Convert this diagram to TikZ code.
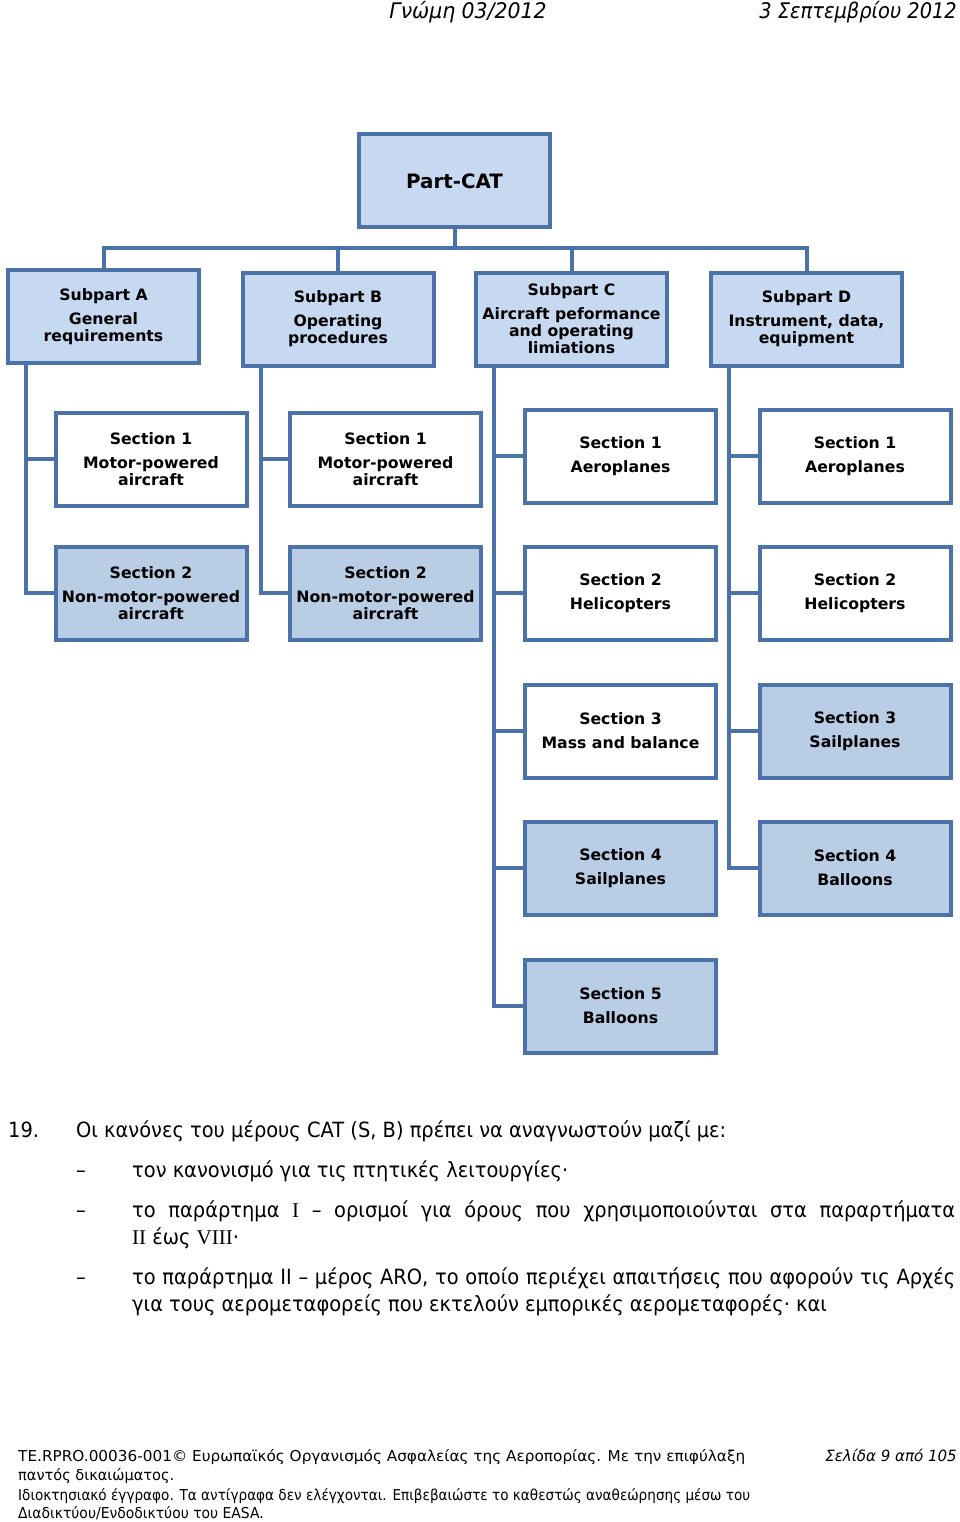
\documentclass[tikz,border=0pt]{standalone}
\usepackage{fontspec}
\setmainfont{DejaVu Sans}
\newfontfamily\narrowfont[FakeStretch=0.925]{DejaVu Sans}
\newfontfamily\footfont[FakeStretch=0.97]{DejaVu Sans}
\newfontfamily\hdrfont[FakeStretch=0.95]{DejaVu Sans}
\newfontfamily\romfont{Liberation Serif}
\definecolor{bstroke}{RGB}{76,114,170}
\definecolor{lblue}{RGB}{198,217,241}
\definecolor{mblue}{RGB}{185,205,229}
\begin{document}
\begin{tikzpicture}[x=1pt,y=-1pt,
  box/.style={draw=bstroke, line width=4pt, minimum width=191pt, minimum height=93pt,
    inner sep=0pt, align=center, font=\fontsize{15.7}{17}\selectfont\bfseries},
  sub/.style={box, fill=lblue},
  secw/.style={box, fill=white},
  secf/.style={box, fill=mblue},
  link/.style={draw=bstroke, line width=4pt},
  hdr/.style={font=\hdrfont\itshape\fontsize{21.5}{24}\selectfont},
  body/.style={font=\narrowfont\fontsize{21}{27}\selectfont, inner sep=0pt},
  foot/.style={font=\footfont\fontsize{15}{19}\selectfont, inner sep=0pt}]
\useasboundingbox (0,0) rectangle (960,1522);
\fill[white] (0,0) rectangle (960,1522);

% header
\node[hdr, anchor=base, inner sep=0pt] (h1) at (468,19) {Γνώμη 03/2012};
\node[hdr, anchor=base east, inner sep=0pt] (h2) at (957,19) {\scalebox{0.95}[1]{3 Σεπτεμβρίου 2012}};

% top
\node[sub, font=\fontsize{19.8}{22}\selectfont\bfseries] (cat) at (454.5,181) {Part-CAT};

% subparts
\node[sub] (subA) at (103.5,316.5) {Subpart A\\[7pt]General\\requirements};
\node[sub] (subB) at (338,319) {Subpart B\\[7pt]Operating\\procedures};
\node[sub] (subC) at (571.5,319) {Subpart C\\[7pt]Aircraft peformance\\and operating\\limiations};
\node[sub] (subD) at (806.5,319) {Subpart D\\[7pt]Instrument, data,\\equipment};

% sections column A
\node[secw] (a1) at (151,459) {Section 1\\[7pt]Motor-powered\\aircraft};
\node[secf] (a2) at (151,593) {Section 2\\[7pt]Non-motor-powered\\aircraft};
% column B
\node[secw] (b1) at (385.5,459) {Section 1\\[7pt]Motor-powered\\aircraft};
\node[secf] (b2) at (385.5,593) {Section 2\\[7pt]Non-motor-powered\\aircraft};
% column C
\node[secw] (c1) at (620.5,456) {Section 1\\[7pt]Aeroplanes};
\node[secw] (c2) at (620.5,593) {Section 2\\[7pt]Helicopters};
\node[secw] (c3) at (620.5,731) {Section 3\\[7pt]Mass and balance};
\node[secf] (c4) at (620.5,868) {Section 4\\[7pt]Sailplanes};
\node[secf] (c5) at (620.5,1006) {Section 5\\[7pt]Balloons};
% column D
\node[secw] (d1) at (855,456) {Section 1\\[7pt]Aeroplanes};
\node[secw] (d2) at (855,593) {Section 2\\[7pt]Helicopters};
\node[secf] (d3) at (855,731) {Section 3\\[7pt]Sailplanes};
\node[secf] (d4) at (855,868) {Section 4\\[7pt]Balloons};

% connectors top
\coordinate (bus) at (454.5,248);
\draw[link] (cat.south) -- (bus);
\draw[link] (subA.north) |- (bus) -| (subD.north);
\draw[link] (bus -| subB.north) -- (subB.north);
\draw[link] (bus -| subC.north) -- (subC.north);

% spines
\coordinate (sA) at ([xshift=20pt]subA.south west);
\coordinate (sB) at ([xshift=20pt]subB.south west);
\coordinate (sC) at ([xshift=20pt]subC.south west);
\coordinate (sD) at ([xshift=20pt]subD.south west);
\foreach \n in {a1,a2} \draw[link] (sA) |- (\n.west);
\foreach \n in {b1,b2} \draw[link] (sB) |- (\n.west);
\foreach \n in {c1,c2,c3,c4,c5} \draw[link] (sC) |- (\n.west);
\foreach \n in {d1,d2,d3,d4} \draw[link] (sD) |- (\n.west);

% body text
\node[body, anchor=base west] (p19) at (8,1137) {19.};
\node[body, anchor=base west] (p0) at (76,1137) {Οι κανόνες του μέρους CAT (S, B) πρέπει να αναγνωστούν μαζί με:};
\node[body, anchor=base west] (d1m) at (76,1177) {–};
\node[body, anchor=base west] (t1) at (132,1177) {τον κανονισμό για τις πτητικές λειτουργίες·};
\node[body, anchor=base west] (d2m) at (76,1217) {–};
\node[body, anchor=base west] (t2a) at (132,1217) {\makebox[823pt][s]{το παράρτημα {\romfont I} – ορισμοί για όρους που χρησιμοποιούνται στα παραρτήματα}};
\node[body, anchor=base west] (t2b) at (132,1244) {{\romfont II} έως {\romfont VIII}·};
\node[body, anchor=base west] (d3m) at (76,1284) {–};
\node[body, anchor=base west] (t3a) at (132,1284) {\makebox[823pt][s]{το παράρτημα II – μέρος ARO, το οποίο περιέχει απαιτήσεις που αφορούν τις Αρχές}};
\node[body, anchor=base west] (t3b) at (132,1311) {για τους αερομεταφορείς που εκτελούν εμπορικές αερομεταφορές· και};

% footer
\node[foot, anchor=base west] (f1) at (18,1461) {\scalebox{1.05}[1]{TE.RPRO.00036-001© Ευρωπαϊκός Οργανισμός Ασφαλείας της Αεροπορίας. Με την επιφύλαξη}};
\node[foot, anchor=base west] (f2) at (18,1480) {παντός δικαιώματος.};
\node[foot, anchor=base west] (f3) at (18,1500) {\scalebox{0.935}[1]{Ιδιοκτησιακό έγγραφο. Τα αντίγραφα δεν ελέγχονται. Επιβεβαιώστε το καθεστώς αναθεώρησης μέσω του}};
\node[foot, anchor=base west] (f4) at (18,1518) {\scalebox{0.957}[1]{Διαδικτύου/Ενδοδικτύου του EASA.}};
\node[foot, anchor=base east, font=\footfont\itshape\fontsize{15.5}{19}\selectfont] (f5) at (957,1461) {Σελίδα 9 από 105};
\end{tikzpicture}
\end{document}
